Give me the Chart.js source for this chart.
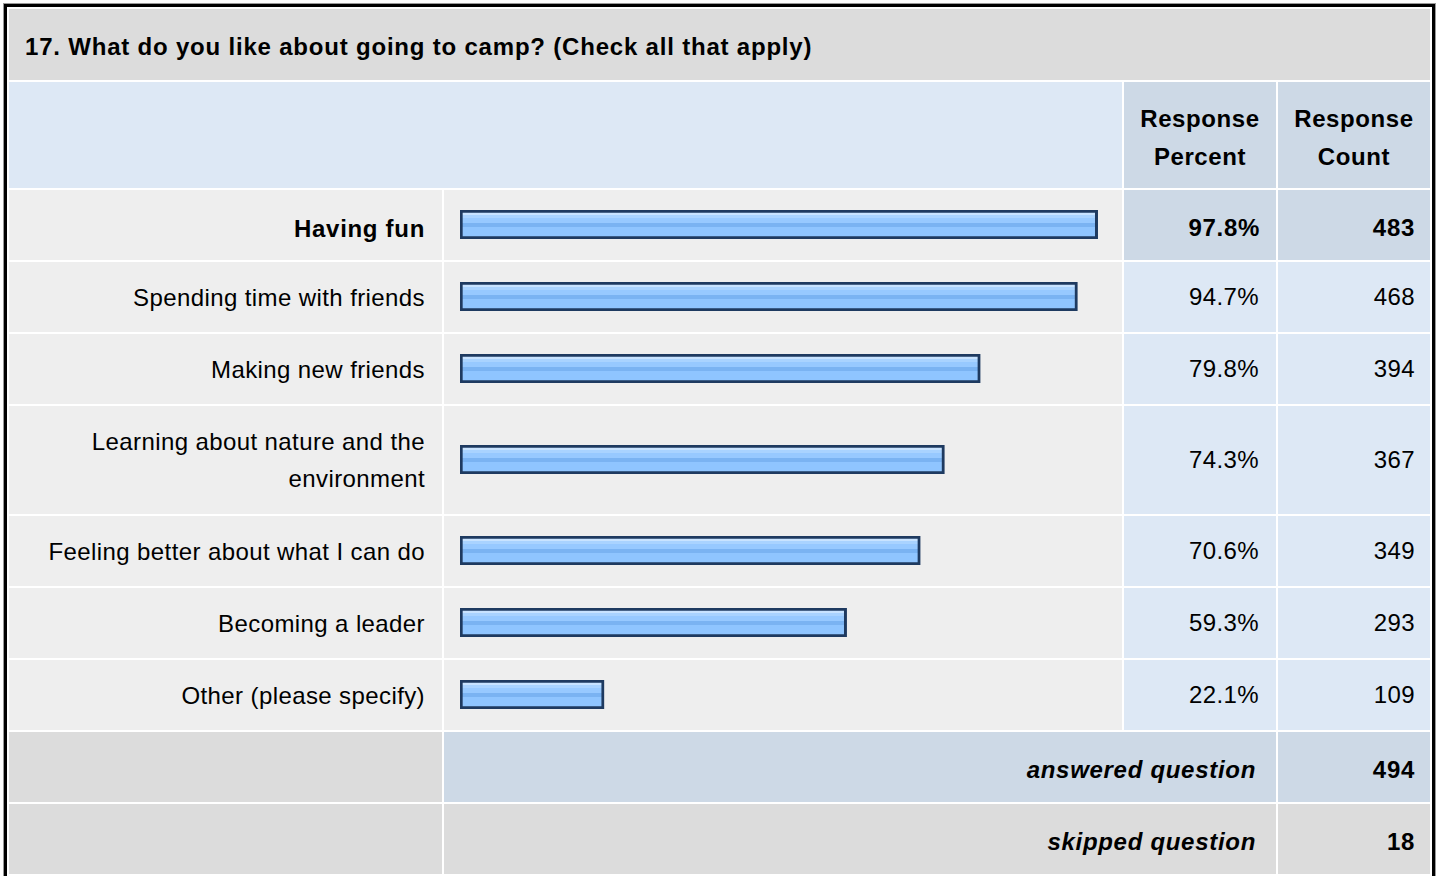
<!DOCTYPE html>
<html lang="en">
<head>
  <meta charset="UTF-8">
  <title>Camp Survey - Question 17</title>
  <script src="https://cdn.jsdelivr.net/npm/chart.js"></script>
  <style>
    html, body { margin: 0; padding: 0; background: #fff; }
    body { font-family: "Liberation Sans", Arial, sans-serif; font-size: 24px; color: #000; letter-spacing: 0.4px; }
    table.summary {
      position: absolute; left: 4px; top: 4px;
      border: 3px solid #000;
      box-shadow: 0 0 0 1px #999;
      border-collapse: separate; border-spacing: 2px;
      table-layout: fixed; background: #fff;
    }
    td { padding: 0 17px; vertical-align: middle; box-sizing: border-box; }
    .title td { background: #dcdcdc; font-weight: bold; height: 71px; padding: 4px 0 0 16px; letter-spacing: 0.8px; }
    .head td { height: 106px; background: #dde8f5; }
    .head td.col { background: #cdd9e6; text-align: center; font-weight: bold; line-height: 38px; padding: 6px 0 0 0; letter-spacing: 0.6px; }
    .row td { height: 70px; background: #eeeeee; }
    .row td.label { text-align: right; line-height: 37px; }
    .row td.num { background: #dde8f5; text-align: right; }
    .row td.num.count { padding-right: 15px; }
    .row.tall td { height: 108px; }
    .row.top td.label, .row.top td.num { font-weight: bold; padding-top: 6px; letter-spacing: 0.7px; }
    .row.top td.num { background: #cdd9e6; }
    .row.top td.num.pct { padding-right: 16px; }
    .row td.bar { position: relative; padding: 0; }
    .bar-box { position: absolute; left: 16px; width: 652px; height: 29px; top: 50%; margin-top: -15px; }
    .foot td { height: 70px; background: #dcdcdc; text-align: right; font-weight: bold; padding-top: 6px; letter-spacing: 0.7px; }
    .foot td.note { font-style: italic; padding-right: 20px; }
    .foot td.num { padding-right: 15px; }
    .foot.answered td.note, .foot.answered td.num { background: #cdd9e6; }
  </style>
</head>
<body>

  <table class="summary" id="summary">
    <colgroup>
      <col style="width:433px">
      <col style="width:678px">
      <col style="width:152px">
      <col style="width:152px">
    </colgroup>
    <tr class="title"><td colspan="4">17. What do you like about going to camp? (Check all that apply)</td></tr>
    <tr class="head">
      <td colspan="2"></td>
      <td class="col">Response<br>Percent</td>
      <td class="col">Response<br>Count</td>
    </tr>
  </table>

  <script>
    // answer options, percent of respondents and raw counts
    const answers = [
      'Having fun',
      'Spending time with friends',
      'Making new friends',
      'Learning about nature and the environment',
      'Feeling better about what I can do',
      'Becoming a leader',
      'Other (please specify)'
    ];
    const percents = [97.8, 94.7, 79.8, 74.3, 70.6, 59.3, 22.1];
    const counts = [483, 468, 394, 367, 349, 293, 109];
    const answered = 494;
    const skipped = 18;

    const table = document.getElementById('summary');

    // glossy blue fill for the bars, hard bands top to bottom (px from bar top)
    function barFill(context) {
      const chart = context.chart;
      const area = chart.chartArea;
      if (!area) return '#96c8ff';
      const h = area.bottom - area.top;
      const g = chart.ctx.createLinearGradient(0, area.top, 0, area.bottom);
      const bands = [
        [0, '#c8e3ff'], [5, '#a9d3ff'], [8, '#97c9ff'],
        [13, '#7ab3f2'], [17, '#8fc5ff']
      ];
      bands.forEach(function (b, i) {
        const end = i + 1 < bands.length ? bands[i + 1][0] : h;
        g.addColorStop(b[0] / h, b[1]);
        g.addColorStop(Math.min(1, (end - 0.01) / h), b[1]);
      });
      return g;
    }

    answers.forEach(function (name, i) {
      const tr = document.createElement('tr');
      tr.className = 'row' + (i === 0 ? ' top' : '') + (name.length > 40 ? ' tall' : '');
      const label = name === 'Learning about nature and the environment'
        ? 'Learning about nature and the<br>environment' : name;
      tr.innerHTML =
        '<td class="label">' + label + '</td>' +
        '<td class="bar"><div class="bar-box"><canvas id="bar' + i + '"></canvas></div></td>' +
        '<td class="num pct">' + percents[i].toFixed(1) + '%</td>' +
        '<td class="num count">' + counts[i] + '</td>';
      table.appendChild(tr);

      new Chart(document.getElementById('bar' + i), {
        type: 'bar',
        data: {
          labels: [name],
          datasets: [{
            data: [percents[i]],
            backgroundColor: barFill,
            borderColor: '#1e3a60',
            borderWidth: 3,
            borderSkipped: false,
            barPercentage: 1,
            categoryPercentage: 1
          }]
        },
        options: {
          indexAxis: 'y',
          responsive: true,
          maintainAspectRatio: false,
          animation: false,
          layout: { padding: 0 },
          scales: {
            x: { min: 0, max: 100, display: false },
            y: { display: false }
          },
          plugins: { legend: { display: false }, tooltip: { enabled: false } }
        }
      });
    });

    const foot = [
      ['answered', 'answered question', answered],
      ['skipped', 'skipped question', skipped]
    ];
    foot.forEach(function (f) {
      const tr = document.createElement('tr');
      tr.className = 'foot ' + f[0];
      tr.innerHTML = '<td></td><td class="note" colspan="2">' + f[1] + '</td><td class="num">' + f[2] + '</td>';
      table.appendChild(tr);
    });
  </script>

</body>
</html>
